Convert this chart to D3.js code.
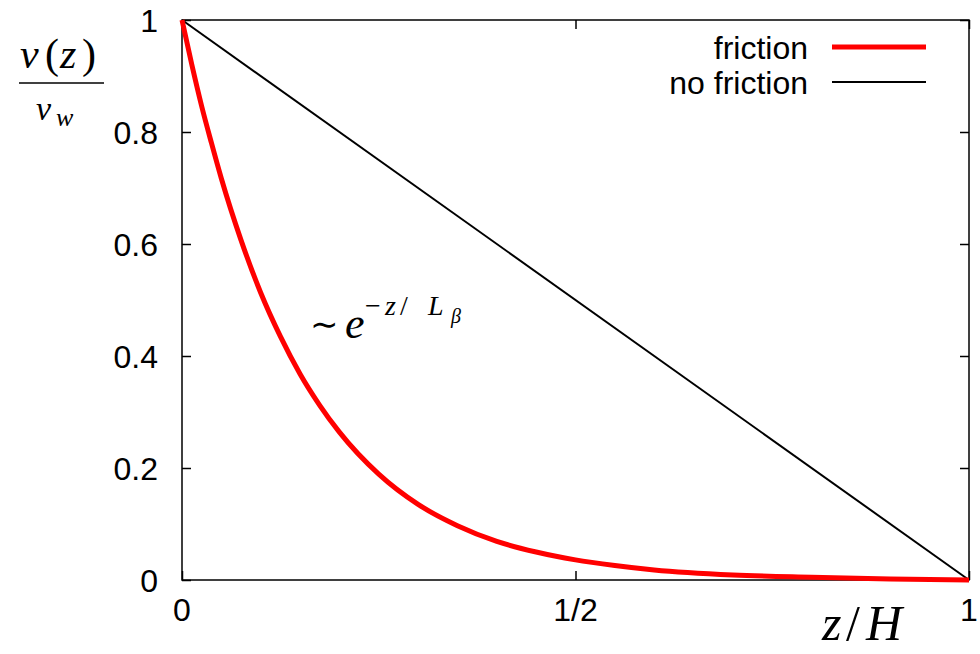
<!DOCTYPE html>
<html>
<head>
<meta charset="utf-8">
<script src="https://cdn.jsdelivr.net/npm/d3@7"></script>
<style>
  html, body { margin: 0; padding: 0; background: #fff; }
  svg { display: block; }
  .tick-label { font-family: "Liberation Sans", Arial, sans-serif; font-size: 32px; fill: #000; }
  .math { font-family: "Liberation Serif", "DejaVu Serif", serif; fill: #000; }
  .it { font-style: italic; }
  .sym { font-family: "DejaVu Sans", sans-serif; }
</style>
</head>
<body>
<svg id="chart" width="980" height="654"></svg>
<script>
// Velocity profile across the gap, z/H from 0 to 1
const frictionZ = [0, 0.0125, 0.025, 0.0375, 0.05, 0.075, 0.1, 0.125, 0.15, 0.175, 0.2, 0.25, 0.3, 0.35, 0.4, 0.45, 0.5, 0.55, 0.6, 0.7, 0.8, 0.9, 1.0];
const frictionV = [1, 0.92, 0.846, 0.78, 0.717, 0.607, 0.513, 0.435, 0.368, 0.312, 0.264, 0.189, 0.135, 0.097, 0.069, 0.050, 0.036, 0.026, 0.018, 0.009, 0.005, 0.002, 0.0];
const noFrictionZ = [0, 1];
const noFrictionV = [1, 0];

const yTicks = [0, 0.2, 0.4, 0.6, 0.8, 1];
const yTickLabels = ["0", "0.2", "0.4", "0.6", "0.8", "1"];
const xTicks = [0, 0.5, 1];
const xTickLabels = ["0", "1/2", "1"];

const seriesNames = ["friction", "no friction"];
const seriesColors = ["#ff0000", "#000000"];
const seriesWidths = [5, 2];

const svg = d3.select("#chart");
const plot = { left: 182, right: 969, top: 20, bottom: 580 };

const x = d3.scaleLinear().domain([0, 1]).range([plot.left, plot.right]);
const y = d3.scaleLinear().domain([0, 1]).range([plot.bottom, plot.top]);

const tickLen = 9;

// Frame
svg.append("rect")
  .attr("x", plot.left).attr("y", plot.top)
  .attr("width", plot.right - plot.left).attr("height", plot.bottom - plot.top)
  .attr("fill", "none").attr("stroke", "#000").attr("stroke-width", 1.5);

// Inward ticks on all four sides
const yAxisL = d3.axisRight(y).tickValues(yTicks).tickSize(tickLen).tickFormat("");
const yAxisR = d3.axisLeft(y).tickValues(yTicks).tickSize(tickLen).tickFormat("");
const xAxisB = d3.axisTop(x).tickValues(xTicks).tickSize(tickLen).tickFormat("");
const xAxisT = d3.axisBottom(x).tickValues(xTicks).tickSize(tickLen).tickFormat("");
[[yAxisL, `translate(${plot.left},0)`], [yAxisR, `translate(${plot.right},0)`],
 [xAxisB, `translate(0,${plot.bottom})`], [xAxisT, `translate(0,${plot.top})`]].forEach(([ax, tr]) => {
  const g = svg.append("g").attr("transform", tr).call(ax);
  g.select(".domain").remove();
  g.selectAll("line").attr("stroke", "#000").attr("stroke-width", 1.5);
});

// Tick labels
svg.append("g").selectAll("text").data(yTicks).join("text")
  .attr("class", "tick-label")
  .attr("x", plot.left - 24)
  .attr("y", d => y(d))
  .attr("dy", "0.36em")
  .attr("text-anchor", "end")
  .text((d, i) => yTickLabels[i]);

svg.append("g").selectAll("text").data(xTicks).join("text")
  .attr("class", "tick-label")
  .attr("x", d => x(d))
  .attr("y", 621)
  .attr("text-anchor", "middle")
  .text((d, i) => xTickLabels[i]);

// Curves
const noFrictionData = noFrictionZ.map((z, i) => [z, noFrictionV[i]]);
const frictionData = frictionZ.map((z, i) => [z, frictionV[i]]);

svg.append("path").datum(noFrictionData)
  .attr("d", d3.line().x(d => x(d[0])).y(d => y(d[1])))
  .attr("fill", "none").attr("stroke", seriesColors[1]).attr("stroke-width", seriesWidths[1]);

svg.append("path").datum(frictionData)
  .attr("d", d3.line().x(d => x(d[0])).y(d => y(d[1])).curve(d3.curveMonotoneX))
  .attr("fill", "none").attr("stroke", seriesColors[0]).attr("stroke-width", seriesWidths[0])
  .attr("stroke-linejoin", "round");

// Legend
const legend = svg.append("g");
seriesNames.forEach((name, i) => {
  const ly = 47 + i * 35;
  legend.append("text")
    .attr("class", "tick-label")
    .attr("x", 808).attr("y", ly).attr("dy", "0.36em")
    .attr("text-anchor", "end")
    .text(name);
  legend.append("line")
    .attr("x1", 832).attr("x2", 926).attr("y1", ly).attr("y2", ly)
    .attr("stroke", seriesColors[i]).attr("stroke-width", seriesWidths[i]);
});

// Helper: place a run of math glyphs, each [text, x, dy, size, style]
function mathText(parent, baseY, parts) {
  const t = parent.append("text").attr("class", "math").attr("y", baseY);
  parts.forEach(([s, px, dy, size, style]) => {
    t.append("tspan")
      .attr("x", px).attr("y", baseY + dy)
      .attr("font-size", size)
      .attr("class", style || null)
      .text(s);
  });
  return t;
}

// Y axis label: v(z) / v_w
const yl = svg.append("g");
mathText(yl, 68, [
  ["v", 20, 0, 42, "it"],
  ["(", 45, 0, 42, null],
  ["z", 60, 0, 42, "it"],
  [")", 82, 0, 42, null]
]);
yl.append("line").attr("x1", 19).attr("x2", 104).attr("y1", 83).attr("y2", 83)
  .attr("stroke", "#000").attr("stroke-width", 1.5);
mathText(yl, 120, [
  ["v", 36, 0, 34, "it"],
  ["w", 56, 6, 26, "it"]
]);

// X axis label: z/H
mathText(svg, 640, [
  ["z", 822, 0, 50, "it"],
  ["/", 846, 0, 50, null],
  ["H", 866, 0, 50, "it"]
]);

// Annotation: ~ e^{-z/L_beta}
const ann = svg.append("g");
mathText(ann, 336, [["∼", 310, 0, 34, "sym"]]);
mathText(ann, 338, [
  ["e", 345, 0, 44, "it"],
  ["−", 365, -23, 28, null],
  ["z", 385, -23, 28, "it"],
  ["/", 400, -23, 28, null],
  ["L", 428, -23, 28, "it"],
  ["β", 451, -15, 20, "it"]
]);
</script>
</body>
</html>
